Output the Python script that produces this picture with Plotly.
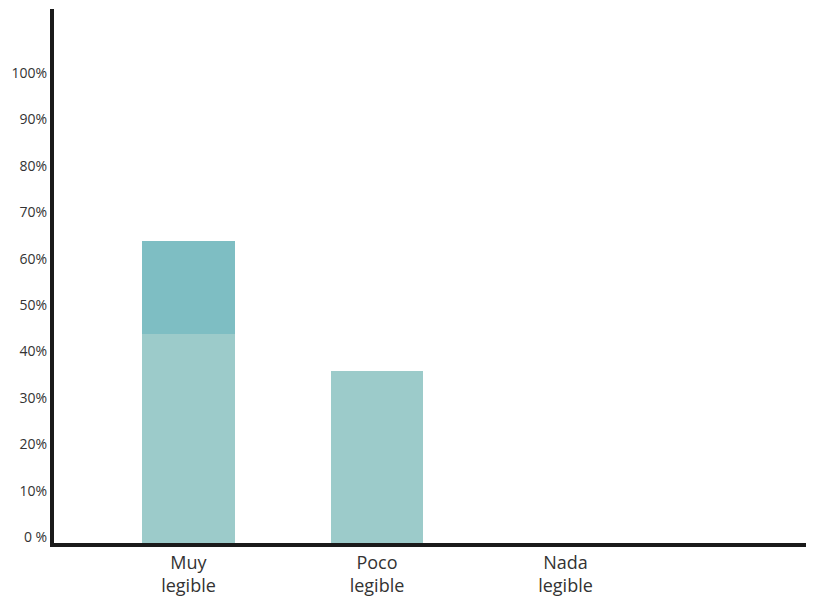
import plotly.graph_objects as go

categories = ["Muy<br>legible", "Poco<br>legible", "Nada<br>legible"]
base_values = [45, 37, 0]
upper_values = [20, 0, 0]
tick_values = [0, 10, 20, 30, 40, 50, 60, 70, 80, 90, 100]
tick_labels = ["0 %", "10%", "20%", "30%", "40%", "50%", "60%", "70%", "80%", "90%", "100%"]

fig = go.Figure()

fig.add_trace(
    go.Bar(
        x=categories,
        y=base_values,
        marker=dict(color="#9ccbca", line=dict(width=0)),
        width=0.49,
        showlegend=False,
    )
)
fig.add_trace(
    go.Bar(
        x=categories,
        y=upper_values,
        marker=dict(color="#7ebec3", line=dict(width=0)),
        width=0.49,
        showlegend=False,
    )
)

# the page adds ~8px body margin, so the figure is a bit smaller than the window
fig.update_layout(
    barmode="stack",
    width=813,
    height=589,
    margin=dict(l=46, r=15, t=1, b=54),
    paper_bgcolor="white",
    plot_bgcolor="white",
    font=dict(family="Open Sans", color="#333333"),
)

fig.update_xaxes(
    range=[-0.7135, 3.276],
    automargin=False,
    showline=True,
    linewidth=4,
    linecolor="#1a1a1a",
    showgrid=False,
    ticks="",
    tickfont=dict(size=18, color="#333333"),
)

fig.update_yaxes(
    range=[0, 115.1],
    automargin=False,
    showline=True,
    linewidth=4,
    linecolor="#1a1a1a",
    showgrid=False,
    zeroline=False,
    ticks="",
    tickvals=tick_values,
    ticktext=tick_labels,
    ticklabelshift=-6,
    tickfont=dict(size=14, color="#333333"),
)

fig.write_html("out.html")
